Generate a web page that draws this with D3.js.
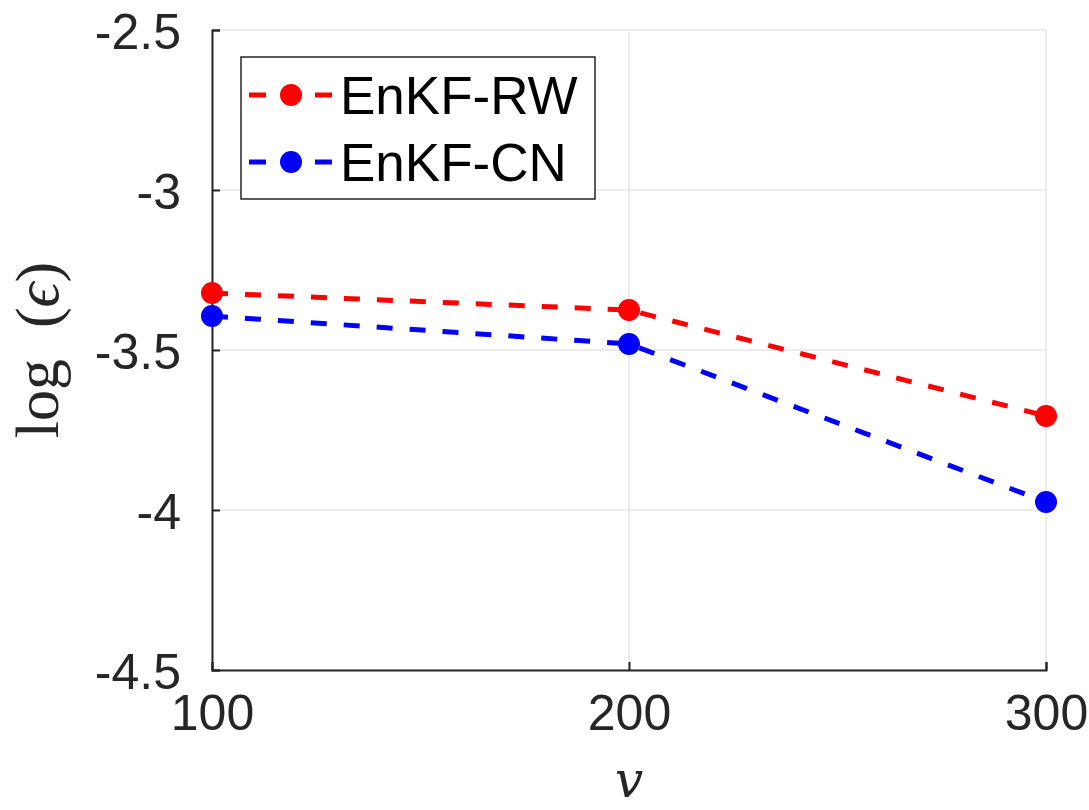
<!DOCTYPE html>
<html>
<head>
<meta charset="utf-8">
<script src="https://cdn.jsdelivr.net/npm/d3@7"></script>
<style>
  body { margin: 0; background: #fff; }
  svg { display: block; }
</style>
</head>
<body>
<div id="chart"></div>
<script>
// Data
var vValues = [100, 200, 300];
var rwValues = [-3.322, -3.375, -3.706];
var cnValues = [-3.394, -3.481, -3.975];
var seriesNames = ["EnKF-RW", "EnKF-CN"];
var seriesColors = ["#ff0000", "#0000ff"];
var xTicks = [100, 200, 300];
var yTicks = [-4.5, -4, -3.5, -3, -2.5];

var W = 1089, H = 810;
var margin = {top: 30, right: 43, bottom: 140, left: 212};
var width = W - margin.left - margin.right,
    height = H - margin.top - margin.bottom;

var svg = d3.select("#chart").append("svg")
    .attr("width", W).attr("height", H);
var g = svg.append("g")
    .attr("transform", "translate(" + margin.left + "," + margin.top + ")");

var x = d3.scaleLinear().domain([100, 300]).range([0, width]);
var y = d3.scaleLinear().domain([-4.5, -2.5]).range([height, 0]);

var axisColor = "#262626";
var gridColor = "#e6e6e6";

// grid
g.selectAll(".gx").data(xTicks).enter().append("line")
    .attr("x1", d => x(d)).attr("x2", d => x(d))
    .attr("y1", 0).attr("y2", height)
    .attr("stroke", gridColor).attr("stroke-width", 1.5);
g.selectAll(".gy").data(yTicks).enter().append("line")
    .attr("x1", 0).attr("x2", width)
    .attr("y1", d => y(d)).attr("y2", d => y(d))
    .attr("stroke", gridColor).attr("stroke-width", 1.5);

// axes (MATLAB style hyphen minus)
var xAxis = g.append("g")
    .attr("transform", "translate(0," + height + ")")
    .call(d3.axisBottom(x).tickValues(xTicks).tickSize(-8).tickPadding(24).tickFormat(d => String(d)));
var yAxis = g.append("g")
    .call(d3.axisLeft(y).tickValues(yTicks).tickSize(-8).tickPadding(31).tickFormat(d => String(d)));

[xAxis, yAxis].forEach(function(a) {
  a.select(".domain").attr("stroke", axisColor).attr("stroke-width", 2);
  a.selectAll(".tick line").attr("stroke", axisColor).attr("stroke-width", 2);
  a.selectAll(".tick text")
    .attr("fill", axisColor)
    .style("font-family", "'Liberation Sans', Arial, sans-serif")
    .style("font-size", "50px");
});
xAxis.selectAll(".tick text").attr("dy", "0.71em");
yAxis.selectAll(".tick text").attr("dy", "0.36em");

// lines
var line = d3.line().x(d => x(d.v)).y(d => y(d.val));
var series = [rwValues, cnValues].map(function(vals, i) {
  return {
    name: seriesNames[i],
    color: seriesColors[i],
    pts: vValues.map((v, j) => ({v: v, val: vals[j]}))
  };
});

series.forEach(function(s) {
  g.append("path")
    .datum(s.pts)
    .attr("d", line)
    .attr("fill", "none")
    .attr("stroke", s.color)
    .attr("stroke-width", 5)
    .attr("stroke-dasharray", "16,17");
  g.selectAll(null).data(s.pts).enter().append("circle")
    .attr("cx", d => x(d.v)).attr("cy", d => y(d.val))
    .attr("r", 11)
    .attr("fill", s.color);
});

// legend
var legend = svg.append("g").attr("transform", "translate(241,57)");
legend.append("rect")
  .attr("width", 354).attr("height", 142)
  .attr("fill", "#fff").attr("stroke", axisColor).attr("stroke-width", 1.5);
var items = legend.selectAll(".legend").data(series).enter().append("g")
  .attr("transform", (d, i) => "translate(0," + (38 + i * 67) + ")");
items.append("line")
  .attr("x1", 8).attr("x2", 91).attr("y1", 0).attr("y2", 0)
  .attr("stroke", d => d.color).attr("stroke-width", 5)
  .attr("stroke-dasharray", "17,49");
items.append("circle").attr("cx", 50).attr("cy", 0).attr("r", 11)
  .attr("fill", d => d.color);
items.append("text")
  .attr("x", 99).attr("y", 0).attr("dy", "0.36em")
  .style("font-family", "'Liberation Sans', Arial, sans-serif")
  .style("font-size", "53px")
  .attr("fill", "#000")
  .text(d => d.name);

// axis labels
svg.append("text")
  .attr("x", margin.left + width / 2).attr("y", 797)
  .attr("text-anchor", "middle")
  .style("font-family", "'DejaVu Serif', 'Liberation Serif', serif")
  .style("font-style", "italic")
  .style("font-size", "50px")
  .attr("fill", axisColor)
  .text("v");

var yl = svg.append("text")
  .attr("transform", "translate(58," + (margin.top + height / 2) + ") rotate(-90)")
  .attr("text-anchor", "middle")
  .style("font-family", "'Liberation Serif', 'DejaVu Serif', serif")
  .style("font-size", "62px")
  .attr("fill", axisColor);
yl.append("tspan").text("log\u2002(");
yl.append("tspan").style("font-style", "italic").text("\u03f5");
yl.append("tspan").text(")");
</script>
</body>
</html>
